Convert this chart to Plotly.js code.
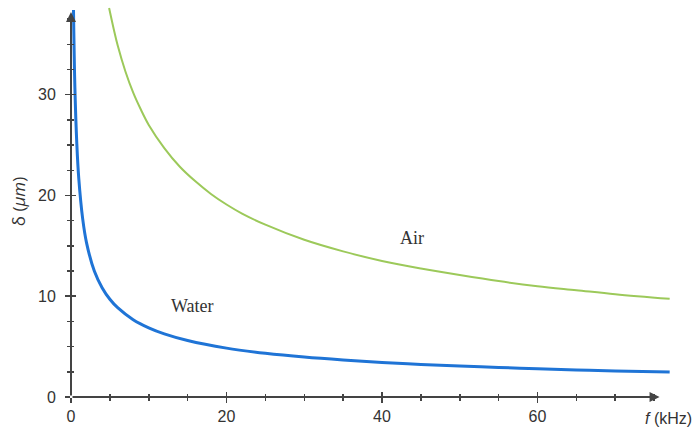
<!DOCTYPE html>
<html><head><meta charset="utf-8">
<script src="https://cdn.plot.ly/plotly-3.0.1.min.js"></script>
<style>html,body{margin:0;padding:0;background:#fff}#c{width:695px;height:430px}</style>
</head><body><div id="c"></div>
<script>
// Values
const waterF = [0.32,0.5,0.75,1,1.5,2,3,4,5,6,8,10,12,15,20,25,30,35,40,45,50,55,60,65,70,77];
const waterD = [38.4,30.7,25.1,21.7,17.7,15.3,12.5,10.85,9.7,8.86,7.67,6.86,6.26,5.6,4.85,4.34,3.96,3.67,3.43,3.23,3.07,2.93,2.8,2.69,2.59,2.47];
const airF = [4.9,5.5,6,7,8,9,10,12,14,16,18,20,22,25,30,35,40,45,50,55,60,65,70,77];
const airD = [38.6,36.5,34.9,32.3,30.2,28.5,27.0,24.7,22.85,21.4,20.15,19.1,18.2,17.1,15.6,14.45,13.5,12.75,12.1,11.5,11.0,10.6,10.2,9.74];
const xTicks = [0,20,40,60];
const yTicks = [0,10,20,30];

const axisCol = '#444';
const traces = [
  {x: waterF, y: waterD, mode:'lines', line:{color:'#1f74d6', width:3, shape:'spline'}, name:'Water', hoverinfo:'skip'},
  {x: airF, y: airD, mode:'lines', line:{color:'#9cc95a', width:2, shape:'spline'}, name:'Air', hoverinfo:'skip'},
  {x:[0], y:[0], xaxis:'x2', yaxis:'y2', mode:'markers', marker:{opacity:0}, hoverinfo:'skip'}
];
const common = {showgrid:false, zeroline:false, showline:false, tickcolor:axisCol, tickwidth:1.5};
const layout = {
  width:695, height:430,
  margin:{l:71, r:23, t:6, b:33},
  paper_bgcolor:'#fff', plot_bgcolor:'#fff',
  showlegend:false,
  font:{family:'Liberation Sans, Open Sans, sans-serif', color:'#333', size:16},
  xaxis: Object.assign({}, common, {range:[0,77.3], tickvals:xTicks, ticktext:xTicks.map(String), ticks:'outside', ticklen:5,
    minor:{dtick:5, tick0:0, ticks:'outside', ticklen:3, tickcolor:axisCol, tickwidth:1.5}, tickfont:{size:16, color:'#333'}}),
  yaxis: Object.assign({}, common, {range:[0,38.8], tickvals:yTicks, ticktext:yTicks.map(String), ticks:'outside', ticklen:5, ticklabelstandoff:6,
    minor:{dtick:2.5, tick0:0, ticks:'outside', ticklen:3, tickcolor:axisCol, tickwidth:1.5}, tickfont:{size:16, color:'#333'}},
    {title:{text:'δ (<i>μm</i>)', standoff:8, font:{family:'Open Sans, sans-serif', size:17, color:'#333'}}}),
  xaxis2: Object.assign({}, common, {overlaying:'x', range:[0,77.3], tickvals:xTicks, showticklabels:false, ticks:'inside', ticklen:5,
    minor:{dtick:5, tick0:0, ticks:'inside', ticklen:3, tickcolor:axisCol, tickwidth:1.5}}),
  yaxis2: Object.assign({}, common, {overlaying:'y', range:[0,38.8], tickvals:yTicks, showticklabels:false, ticks:'inside', ticklen:5,
    minor:{dtick:2.5, tick0:0, ticks:'inside', ticklen:3, tickcolor:axisCol, tickwidth:1.5}}),
  annotations:[
    {x:75.7, y:0, ax:0, ay:0, xref:'x', yref:'y', axref:'x', ayref:'y', text:'', showarrow:true, arrowhead:2, arrowsize:1, arrowwidth:2, arrowcolor:axisCol},
    {x:0, y:38.2, ax:0, ay:0, xref:'x', yref:'y', axref:'x', ayref:'y', text:'', showarrow:true, arrowhead:2, arrowsize:1, arrowwidth:2, arrowcolor:axisCol},
    {x:43.8, y:15.8, xref:'x', yref:'y', text:'Air', showarrow:false, font:{family:'Liberation Serif, Times New Roman, serif', size:18, color:'#333'}},
    {x:15.6, y:9.0, xref:'x', yref:'y', text:'Water', showarrow:false, font:{family:'Liberation Serif, Times New Roman, serif', size:18, color:'#333'}},
    {x:1, y:0, xref:'paper', yref:'paper', yshift:-21, xshift:22, text:'<i>f</i> (kHz)', showarrow:false, xanchor:'right', yanchor:'middle',
     font:{family:'Liberation Sans, sans-serif', size:16, color:'#333'}}
  ]
};
Plotly.newPlot('c', traces, layout, {staticPlot:true});
</script></body></html>
